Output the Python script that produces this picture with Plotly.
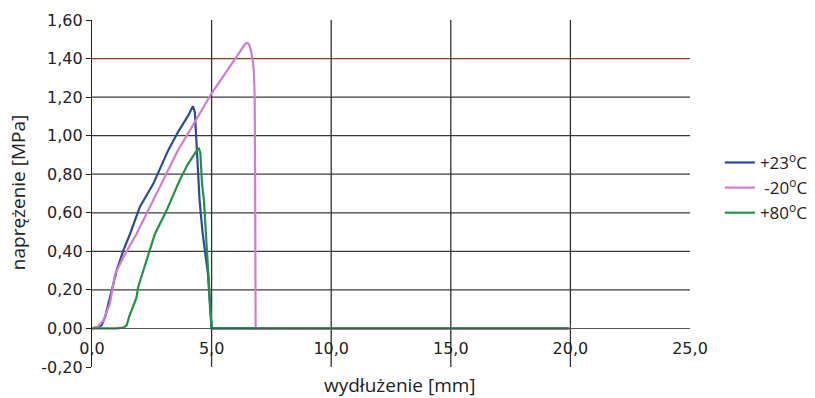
import plotly.graph_objects as go

# ---- data ----
series_names = ["+23<sup>o</sup>C", " -20<sup>o</sup>C", "+80<sup>o</sup>C"]
series_colors = ["#2c4a9c", "#d27ccc", "#1f9444"]

x_p23 = [0.0, 0.2, 0.4, 0.55, 0.75, 1.03, 1.31, 1.59, 2.0, 2.56, 3.19, 3.6, 4.0, 4.15, 4.22, 4.3, 4.4, 4.5, 4.62, 4.75, 4.85, 4.93, 5.0, 10.0, 15.0, 20.0]
y_p23 = [0.0, 0.005, 0.016, 0.06, 0.16, 0.30, 0.405, 0.49, 0.63, 0.75, 0.925, 1.02, 1.10, 1.14, 1.153, 1.12, 0.90, 0.66, 0.50, 0.38, 0.28, 0.12, 0.0, 0.0, 0.0, 0.0]

x_m20 = [0.0, 0.25, 0.47, 0.6, 0.75, 0.96, 1.31, 1.86, 2.42, 2.98, 3.6, 4.2, 5.0, 5.5, 6.0, 6.3, 6.4, 6.48, 6.56, 6.64, 6.72, 6.77, 6.8, 6.82, 6.84, 10.0, 15.0, 20.0]
y_m20 = [0.0, 0.01, 0.04, 0.08, 0.13, 0.28, 0.37, 0.49, 0.63, 0.77, 0.925, 1.05, 1.22, 1.31, 1.40, 1.455, 1.475, 1.482, 1.475, 1.445, 1.39, 1.33, 1.2, 0.8, 0.0, 0.0, 0.0, 0.0]

x_p80 = [0.0, 0.5, 1.0, 1.3, 1.45, 1.55, 1.86, 1.93, 2.42, 2.63, 3.11, 3.67, 4.0, 4.3, 4.4, 4.47, 4.53, 4.6, 4.68, 4.72, 4.8, 4.85, 4.88, 4.92, 5.0, 10.0, 15.0, 19.9]
y_p80 = [0.0, 0.0, 0.0, 0.004, 0.016, 0.06, 0.16, 0.215, 0.405, 0.49, 0.61, 0.77, 0.85, 0.91, 0.928, 0.933, 0.91, 0.75, 0.665, 0.58, 0.42, 0.29, 0.28, 0.20, 0.0, 0.0, 0.0, 0.0]

x_ticks = [0, 5, 10, 15, 20, 25]
x_ticktext = ["0,0", "5,0", "10,0", "15,0", "20,0", "25,0"]
y_ticks = [-0.2, 0.0, 0.2, 0.4, 0.6, 0.8, 1.0, 1.2, 1.4, 1.6]
y_ticktext = ["-0,20", "0,00", "0,20", "0,40", "0,60", "0,80", "1,00", "1,20", "1,40", "1,60"]
h_grid = [0.2, 0.4, 0.6, 0.8, 1.0, 1.2, 1.4]
v_grid = [5, 10, 15, 20]

x_title = "wydłużenie [mm]"
y_title = "naprężenie [MPa]"

fig = go.Figure()
for xs, ys, name, col in zip([x_p23, x_m20, x_p80], [y_p23, y_m20, y_p80], series_names, series_colors):
    fig.add_trace(go.Scatter(x=xs, y=ys, mode="lines", name=name,
                             line=dict(color=col, width=2.2)))

shapes = []
for v in h_grid:
    shapes.append(dict(type="line", xref="x", yref="y", x0=0, x1=25, y0=v, y1=v, layer="below",
                       line=dict(color="#8a3a2c" if v == 1.4 else "#3e3a3a", width=1.3)))
for v in v_grid:
    shapes.append(dict(type="line", xref="x", yref="y", x0=v, x1=v, y0=-0.2, y1=1.6, layer="below",
                       line=dict(color="#362e2e", width=1.3)))

tick_font = dict(family="DejaVu Sans", size=16, color="#222222")

fig.update_layout(
    width=815, height=398,
    margin=dict(l=92, r=125, t=20, b=31, autoexpand=False),
    paper_bgcolor="white", plot_bgcolor="white",
    shapes=shapes,
    showlegend=True,
    legend=dict(x=1.05, xanchor="left", y=0.516, yanchor="middle",
                font=dict(family="Open Sans", size=17, color="#222222"),
                bgcolor="rgba(0,0,0,0)", tracegroupgap=0),
    xaxis=dict(range=[0, 25], anchor="free", position=0.2 / 1.8, automargin=False,
               tickvals=x_ticks, ticktext=x_ticktext, tickfont=tick_font,
               showgrid=False, zeroline=False, showline=True, linecolor="#555555", linewidth=1,
               ticks="inside", ticklen=4, tickcolor="#555555", ticklabelstandoff=5),
    yaxis=dict(range=[-0.2, 1.6], anchor="x", automargin=False,
               tickvals=y_ticks, ticktext=y_ticktext, tickfont=tick_font,
               showgrid=False, zeroline=False, showline=True, linecolor="#222222", linewidth=1.3,
               ticks="outside", ticklen=5, tickcolor="#222222"),
    annotations=[
        dict(text=x_title, xref="paper", yref="paper", x=0.515, y=-0.052, xanchor="center", yanchor="middle",
             showarrow=False, font=dict(family="Open Sans", size=19, color="#222222")),
        dict(text=y_title, xref="paper", yref="paper", x=-0.1237, y=0.501, xanchor="center", yanchor="middle",
             textangle=-90, showarrow=False, font=dict(family="Open Sans", size=19, color="#222222")),
    ],
)

fig.write_html("out.html", config={"displayModeBar": False},
               post_script="document.body.style.margin='0';document.body.style.overflow='hidden';")
